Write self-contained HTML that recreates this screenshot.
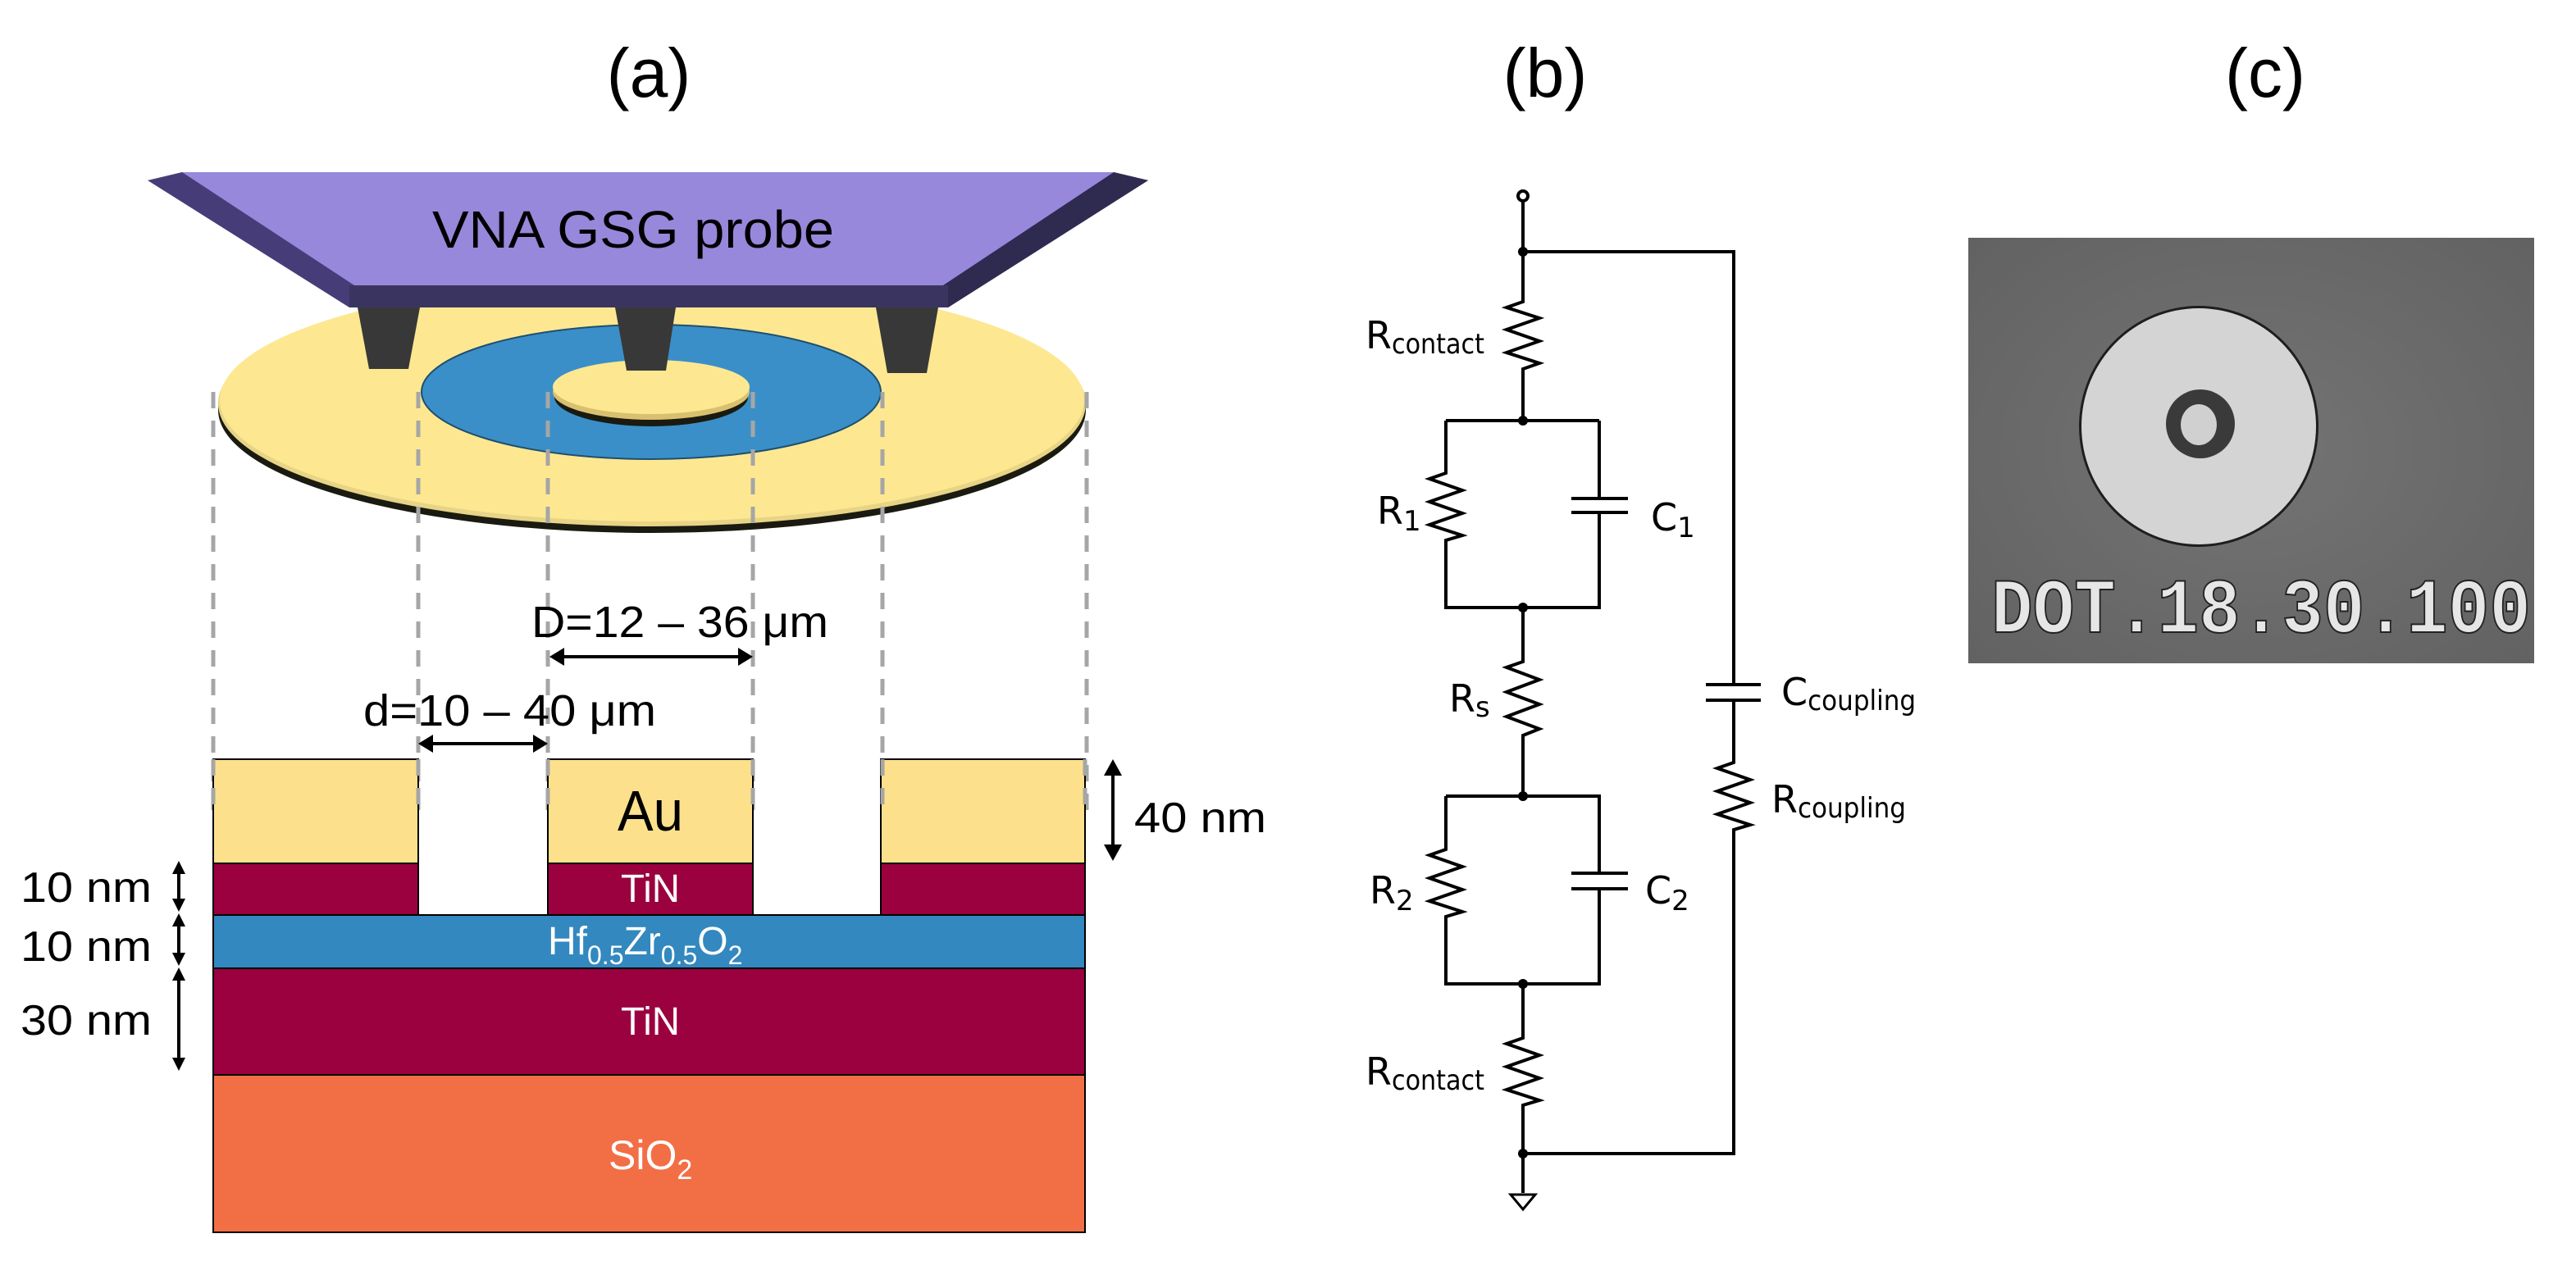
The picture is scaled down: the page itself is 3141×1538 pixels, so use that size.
<!DOCTYPE html>
<html><head><meta charset="utf-8"><style>html,body{margin:0;padding:0;background:#fff}svg{display:block}</style></head>
<body>
<svg width="3141" height="1538" viewBox="0 0 3141 1538" xmlns="http://www.w3.org/2000/svg" font-family="Liberation Sans, sans-serif">
<defs>
<radialGradient id="pg" cx="0.5" cy="0.5" r="0.7"><stop offset="0" stop-color="#747474"/><stop offset="1" stop-color="#626262"/></radialGradient>
</defs>
<!-- titles -->
<text x="791" y="118" font-size="84" text-anchor="middle">(a)</text>
<text x="1884" y="118" font-size="84" text-anchor="middle">(b)</text>
<text x="2762" y="118" font-size="84" text-anchor="middle">(c)</text>

<!-- disk -->
<ellipse cx="795" cy="500" rx="529" ry="150" fill="#1a1a10"/>
<ellipse cx="795" cy="492" rx="529" ry="150" fill="#e8d486"/>
<ellipse cx="795" cy="488" rx="527" ry="148" fill="#fde891"/>
<ellipse cx="794" cy="478" rx="280" ry="82" fill="#3a8fc8" stroke="#1f4f70" stroke-width="2"/>
<ellipse cx="794" cy="484" rx="118" ry="36" fill="#1a1a10"/>
<ellipse cx="794" cy="478" rx="120" ry="34" fill="#d9c070"/>
<ellipse cx="794" cy="472" rx="120" ry="33" fill="#fde891"/>

<!-- probe -->
<polygon points="180,220 222,210 1358,210 1400,220 1156,375 426,375" fill="#463d78"/>
<polygon points="1358,210 1400,220 1156,375 1150,348" fill="#2f2a50"/>
<polygon points="222,210 1358,210 1150,348 432,348" fill="#9788db"/>
<rect x="426" y="348" width="730" height="27" fill="#3a3560"/>
<polygon points="436,375 512,375 498,450 450,450" fill="#383838"/>
<polygon points="750,375 824,375 812,452 764,452" fill="#383838"/>
<polygon points="1068,375 1144,375 1130,455 1082,455" fill="#383838"/>
<text x="772" y="302" font-size="64" text-anchor="middle" textLength="490" lengthAdjust="spacingAndGlyphs">VNA GSG probe</text>

<!-- dashed lines -->
<g stroke="#a6a6a6" stroke-width="5" stroke-dasharray="20 15">
<line x1="260" y1="478" x2="260" y2="990"/><line x1="510" y1="478" x2="510" y2="990"/>
<line x1="668" y1="478" x2="668" y2="990"/><line x1="918" y1="478" x2="918" y2="990"/>
<line x1="1076" y1="478" x2="1076" y2="990"/><line x1="1325" y1="478" x2="1325" y2="990"/>
</g>

<!-- stack -->
<g stroke="#000" stroke-width="2">
<rect x="260" y="1311" width="1063" height="192" fill="#f26f46"/>
<rect x="260" y="1181" width="1063" height="130" fill="#9b003f"/>
<rect x="260" y="1116" width="1063" height="65" fill="#3388bf"/>
<rect x="260" y="1053" width="250" height="63" fill="#9b003f"/>
<rect x="668" y="1053" width="250" height="63" fill="#9b003f"/>
<rect x="1074" y="1053" width="249" height="63" fill="#9b003f"/>
<rect x="260" y="926" width="250" height="127" fill="#fde08c"/>
<rect x="668" y="926" width="250" height="127" fill="#fde08c"/>
<rect x="1074" y="926" width="249" height="127" fill="#fde08c"/>
</g>
<g stroke="#a6a6a6" stroke-width="5" stroke-dasharray="20 15">
<line x1="260" y1="926" x2="260" y2="990"/><line x1="510" y1="926" x2="510" y2="990"/>
<line x1="668" y1="926" x2="668" y2="990"/><line x1="918" y1="926" x2="918" y2="990"/>
<line x1="1076" y1="926" x2="1076" y2="990"/><line x1="1323" y1="926" x2="1323" y2="990"/>
</g>
<text x="793" y="1013" font-size="70" text-anchor="middle" textLength="80" lengthAdjust="spacingAndGlyphs">Au</text>
<text x="793" y="1100" font-size="48" fill="#fff" text-anchor="middle" textLength="72" lengthAdjust="spacingAndGlyphs">TiN</text>
<text x="668" y="1164" font-size="48" fill="#fff">Hf<tspan font-size="32" dy="12">0.5</tspan><tspan dy="-12">Zr</tspan><tspan font-size="32" dy="12">0.5</tspan><tspan dy="-12">O</tspan><tspan font-size="32" dy="12">2</tspan></text>
<text x="793" y="1262" font-size="48" fill="#fff" text-anchor="middle" textLength="72" lengthAdjust="spacingAndGlyphs">TiN</text>
<text x="742" y="1426" font-size="50" fill="#fff">SiO<tspan font-size="34" dy="12">2</tspan></text>

<!-- arrows -->
<g stroke="#000" stroke-width="4" fill="none">
<line x1="680" y1="801" x2="908" y2="801"/>
<line x1="520" y1="907" x2="658" y2="907"/>
<line x1="1357" y1="938" x2="1357" y2="1038"/>
<line x1="218" y1="1062" x2="218" y2="1100"/>
<line x1="218" y1="1124" x2="218" y2="1166"/>
<line x1="218" y1="1190" x2="218" y2="1294"/>
</g>
<g fill="#000">
<polygon points="670,801 688,790 688,812"/><polygon points="918,801 900,790 900,812"/>
<polygon points="510,907 528,896 528,918"/><polygon points="668,907 650,896 650,918"/>
<polygon points="1357,926 1346,946 1368,946"/><polygon points="1357,1050 1346,1030 1368,1030"/>
<polygon points="218,1050 210,1066 226,1066"/><polygon points="218,1112 210,1096 226,1096"/>
<polygon points="218,1114 210,1130 226,1130"/><polygon points="218,1178 210,1162 226,1162"/>
<polygon points="218,1180 210,1196 226,1196"/><polygon points="218,1306 210,1290 226,1290"/>
</g>
<text x="648" y="777" font-size="54" textLength="362" lengthAdjust="spacingAndGlyphs">D=12 – 36 μm</text>
<text x="443" y="885" font-size="54" textLength="357" lengthAdjust="spacingAndGlyphs">d=10 – 40 μm</text>
<text x="1383" y="1015" font-size="52" textLength="161" lengthAdjust="spacingAndGlyphs">40 nm</text>
<text x="185" y="1100" font-size="52" text-anchor="end" textLength="160" lengthAdjust="spacingAndGlyphs">10 nm</text>
<text x="185" y="1172" font-size="52" text-anchor="end" textLength="160" lengthAdjust="spacingAndGlyphs">10 nm</text>
<text x="185" y="1262" font-size="52" text-anchor="end" textLength="160" lengthAdjust="spacingAndGlyphs">30 nm</text>

<!-- circuit -->
<g stroke="#000" stroke-width="4" fill="none" stroke-linejoin="miter">
<circle cx="1857" cy="239" r="6"/>
<polyline points="1857,245 1857,368 1837,375 1877,388 1837,402 1877,416 1837,430 1877,443 1857,450 1857,513"/>
<polyline points="1857,307 2114,307 2114,835"/>
<line x1="2080" y1="835" x2="2147" y2="835"/><line x1="2080" y1="854" x2="2147" y2="854"/>
<polyline points="2114,854 2114,930 2094,937 2134,951 2094,965 2134,979 2094,993 2134,1006 2114,1012 2114,1407 1857,1407"/>
<polyline points="1763,513 1950,513"/>
<polyline points="1763,513 1763,577 1743,584 1783,598 1743,612 1783,626 1743,640 1783,653 1763,659 1763,741 1950,741 1950,625"/>
<line x1="1950" y1="513" x2="1950" y2="608"/>
<line x1="1916" y1="608" x2="1985" y2="608"/><line x1="1916" y1="625" x2="1985" y2="625"/>
<polyline points="1857,741 1857,807 1837,814 1877,829 1837,844 1877,859 1837,874 1877,889 1857,897 1857,971"/>
<polyline points="1763,971 1950,971 1950,1065"/>
<polyline points="1763,971 1763,1036 1743,1043 1783,1057 1743,1071 1783,1085 1743,1099 1783,1112 1763,1118 1763,1200 1950,1200 1950,1084"/>
<line x1="1916" y1="1065" x2="1985" y2="1065"/><line x1="1916" y1="1084" x2="1985" y2="1084"/>
<polyline points="1857,1200 1857,1266 1837,1273 1877,1287 1837,1301 1877,1315 1837,1329 1877,1342 1857,1348 1857,1455"/>
<polygon points="1842,1457 1872,1457 1857,1475" stroke-width="3"/>
</g>
<g fill="#000">
<circle cx="1857" cy="307" r="6"/><circle cx="1857" cy="513" r="6"/><circle cx="1857" cy="741" r="6"/>
<circle cx="1857" cy="971" r="6"/><circle cx="1857" cy="1200" r="6"/><circle cx="1857" cy="1407" r="6"/>
</g>
<g font-family="DejaVu Sans, sans-serif" font-size="46">
<text x="1665" y="425">R<tspan font-size="34" dy="6" textLength="113" lengthAdjust="spacingAndGlyphs">contact</tspan></text>
<text x="1679" y="639">R<tspan font-size="34" dy="8">1</tspan></text>
<text x="2013" y="647">C<tspan font-size="34" dy="8">1</tspan></text>
<text x="1767" y="868">R<tspan font-size="34" dy="6">s</tspan></text>
<text x="2172" y="860">C<tspan font-size="34" dy="6" textLength="132" lengthAdjust="spacingAndGlyphs">coupling</tspan></text>
<text x="2160" y="991">R<tspan font-size="34" dy="6" textLength="132" lengthAdjust="spacingAndGlyphs">coupling</tspan></text>
<text x="1670" y="1102">R<tspan font-size="34" dy="8">2</tspan></text>
<text x="2006" y="1102">C<tspan font-size="34" dy="8">2</tspan></text>
<text x="1665" y="1323">R<tspan font-size="34" dy="6" textLength="113" lengthAdjust="spacingAndGlyphs">contact</tspan></text>
</g>

<!-- photo -->
<rect x="2400" y="290" width="690" height="519" fill="url(#pg)"/>
<ellipse cx="2681" cy="520" rx="146" ry="147" fill="#1e1e1e"/>
<ellipse cx="2681" cy="520" rx="143" ry="144" fill="#d4d4d4"/>
<ellipse cx="2683" cy="517" rx="42" ry="42" fill="#3a3a3a"/>
<ellipse cx="2681" cy="518" rx="22" ry="25" fill="#d0d0d0"/>
<text x="2428" y="771" font-family="Liberation Mono, monospace" font-weight="bold" font-size="95" fill="#e6e6e6" stroke="#222" stroke-width="2" textLength="658" lengthAdjust="spacingAndGlyphs">DOT.18.30.100</text>
</svg>
</body></html>
